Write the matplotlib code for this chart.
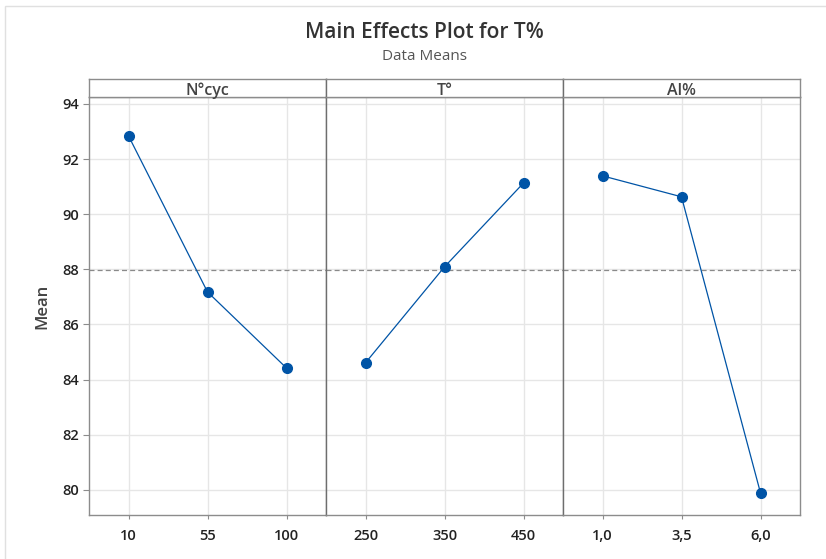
import matplotlib
matplotlib.use("Agg")
import matplotlib.pyplot as plt
from matplotlib.patches import Rectangle

plt.rcParams['font.family'] = ['Open Sans', 'DejaVu Sans']

# Factor names, level labels and mean response at each level
factors = ["N°cyc", "T°", "Al%"]
levels_ncyc = ["10", "55", "100"]
levels_temp = ["250", "350", "450"]
levels_al = ["1,0", "3,5", "6,0"]
means_ncyc = [92.84, 87.18, 84.42]
means_temp = [84.61, 88.09, 91.13]
means_al = [91.39, 90.63, 79.89]
grand_mean = 87.98
y_ticks = [80, 82, 84, 86, 88, 90, 92, 94]

levels = [levels_ncyc, levels_temp, levels_al]
means = [means_ncyc, means_temp, means_al]

W, H = 826, 559
fig = plt.figure(figsize=(W / 100, H / 100), dpi=100)

# light outer frame
fig.patches.append(Rectangle((5 / W, -0.1), 1.2, 1 - 6 / H + 0.1,
                             transform=fig.transFigure, fill=False,
                             edgecolor="#E0E0E0", linewidth=1.0))

fig.text(424 / W, 1 - 33 / H, "Main Effects Plot for T%", ha="center", va="center",
         fontsize=15, color="#333333", fontweight="semibold")
fig.text(424 / W, 1 - 56 / H, "Data Means", ha="center", va="center",
         fontsize=11, color="#555555")

left_px, right_px = 89, 800
top_hdr, top_plot, bottom_px = 79, 97, 515
panel_w = (right_px - left_px) / 3

blue = "#0054A6"
spine_c = "#8C8C8C"
ymin, ymax = 79.09, 94.25

for i in range(3):
    x0 = left_px + i * panel_w
    ax = fig.add_axes([x0 / W, 1 - bottom_px / H, panel_w / W, (bottom_px - top_plot) / H])
    xs = list(range(len(levels[i])))
    ax.set_xlim(-0.5, 2.5)
    ax.set_ylim(ymin, ymax)
    ax.set_yticks(y_ticks)
    ax.set_xticks(xs)
    ax.set_xticklabels(levels[i])
    ax.grid(True, color="#E6E6E6", linewidth=1.0)
    ax.set_axisbelow(True)
    ax.axhline(grand_mean, color="#8A8A8A", linestyle=(0, (4, 2.5)), linewidth=0.9, zorder=2)
    ax.plot(xs, means[i], color=blue, linewidth=0.9, marker="o", markersize=7,
            markerfacecolor=blue, markeredgecolor=blue, zorder=3)
    ax.tick_params(axis="x", length=3, color=spine_c, pad=7, labelsize=10.5,
                   labelcolor="#222222")
    for lab in ax.get_xticklabels():
        lab.set_fontweight("semibold")
    if i == 0:
        ax.tick_params(axis="y", length=4, color=spine_c, labelsize=10.5,
                       labelcolor="#222222", pad=3)
        for lab in ax.get_yticklabels():
            lab.set_fontweight("semibold")
        ax.set_ylabel("Mean", fontsize=12, color="#444444", fontweight="semibold",
                      labelpad=9)
    else:
        ax.tick_params(axis="y", length=0, labelleft=False)
    for s in ["left", "right", "top", "bottom"]:
        ax.spines[s].set_color(spine_c)
        ax.spines[s].set_linewidth(1.0)
    if i > 0:
        ax.spines["left"].set_color("#6E6E6E")

    # header strip with factor name
    hx = fig.add_axes([x0 / W, 1 - top_plot / H, panel_w / W, (top_plot - top_hdr) / H])
    hx.set_xticks([])
    hx.set_yticks([])
    for s in ["left", "right", "top", "bottom"]:
        hx.spines[s].set_color(spine_c)
        hx.spines[s].set_linewidth(1.0)
    if i > 0:
        hx.spines["left"].set_color("#6E6E6E")
    hx.text(0.5, 0.35, factors[i], ha="center", va="center", transform=hx.transAxes,
            fontsize=11.5, color="#444444", fontweight="semibold")

fig.savefig("out.png", dpi=100)
